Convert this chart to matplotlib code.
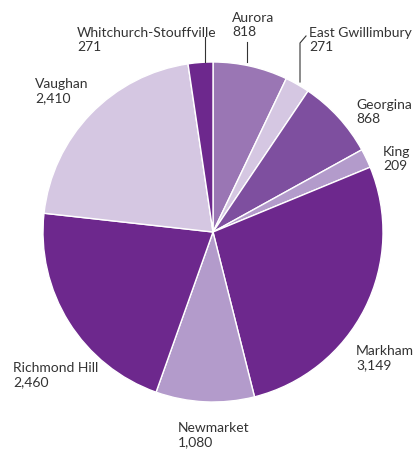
import matplotlib.pyplot as plt

# pie data, clockwise from 12 o'clock
names = ["Aurora", "East Gwillimbury", "Georgina", "King", "Markham",
         "Newmarket", "Richmond Hill", "Vaughan", "Whitchurch-Stouffville"]
values = [818, 271, 868, 209, 3149, 1080, 2460, 2410, 271]
labels = ["818", "271", "868", "209", "3,149", "1,080", "2,460", "2,410", "271"]

colors = ["#9a76b4", "#d5c7e2", "#7e4f9f", "#b39bcb", "#6d288d",
          "#b39bcb", "#6d288d", "#d5c7e2", "#6d288d"]

# label placement in pixels (left, top), image coords
label_pos = {
    "Aurora": (232, 12),
    "East Gwillimbury": (309, 27),
    "Georgina": (356, 99),
    "King": (383, 146),
    "Markham": (356, 345),
    "Newmarket": (178, 422),
    "Richmond Hill": (13, 362),
    "Vaughan": (35, 78),
    "Whitchurch-Stouffville": (77, 27),
}

W, H = 413, 449
plt.rcParams['font.family'] = ['Lato', 'DejaVu Sans']

fig = plt.figure(figsize=(W / 100, H / 100), dpi=100)
ax = fig.add_axes([0, 0, 1, 1])

ax.pie(values, colors=colors, startangle=90, counterclock=False,
       center=(213, H - 232), radius=170,
       wedgeprops=dict(edgecolor="white", linewidth=1.0))
ax.set_xlim(0, W)
ax.set_ylim(0, H)
ax.set_aspect("equal")
ax.axis("off")

for n, v in zip(names, labels):
    x, y = label_pos[n]
    ax.text(x, H - y, n + "\n" + v, ha="left", va="top", fontsize=10,
            color="#333333", linespacing=1.2)

# leader lines
ax.plot([205, 205], [H - 37, H - 62], color="#333333", lw=0.8)
ax.plot([247, 247], [H - 42, H - 62], color="#333333", lw=0.8)
ax.plot([300, 300, 306], [H - 82, H - 43, H - 36], color="#333333", lw=0.8)

fig.savefig("out.png", dpi=100)
